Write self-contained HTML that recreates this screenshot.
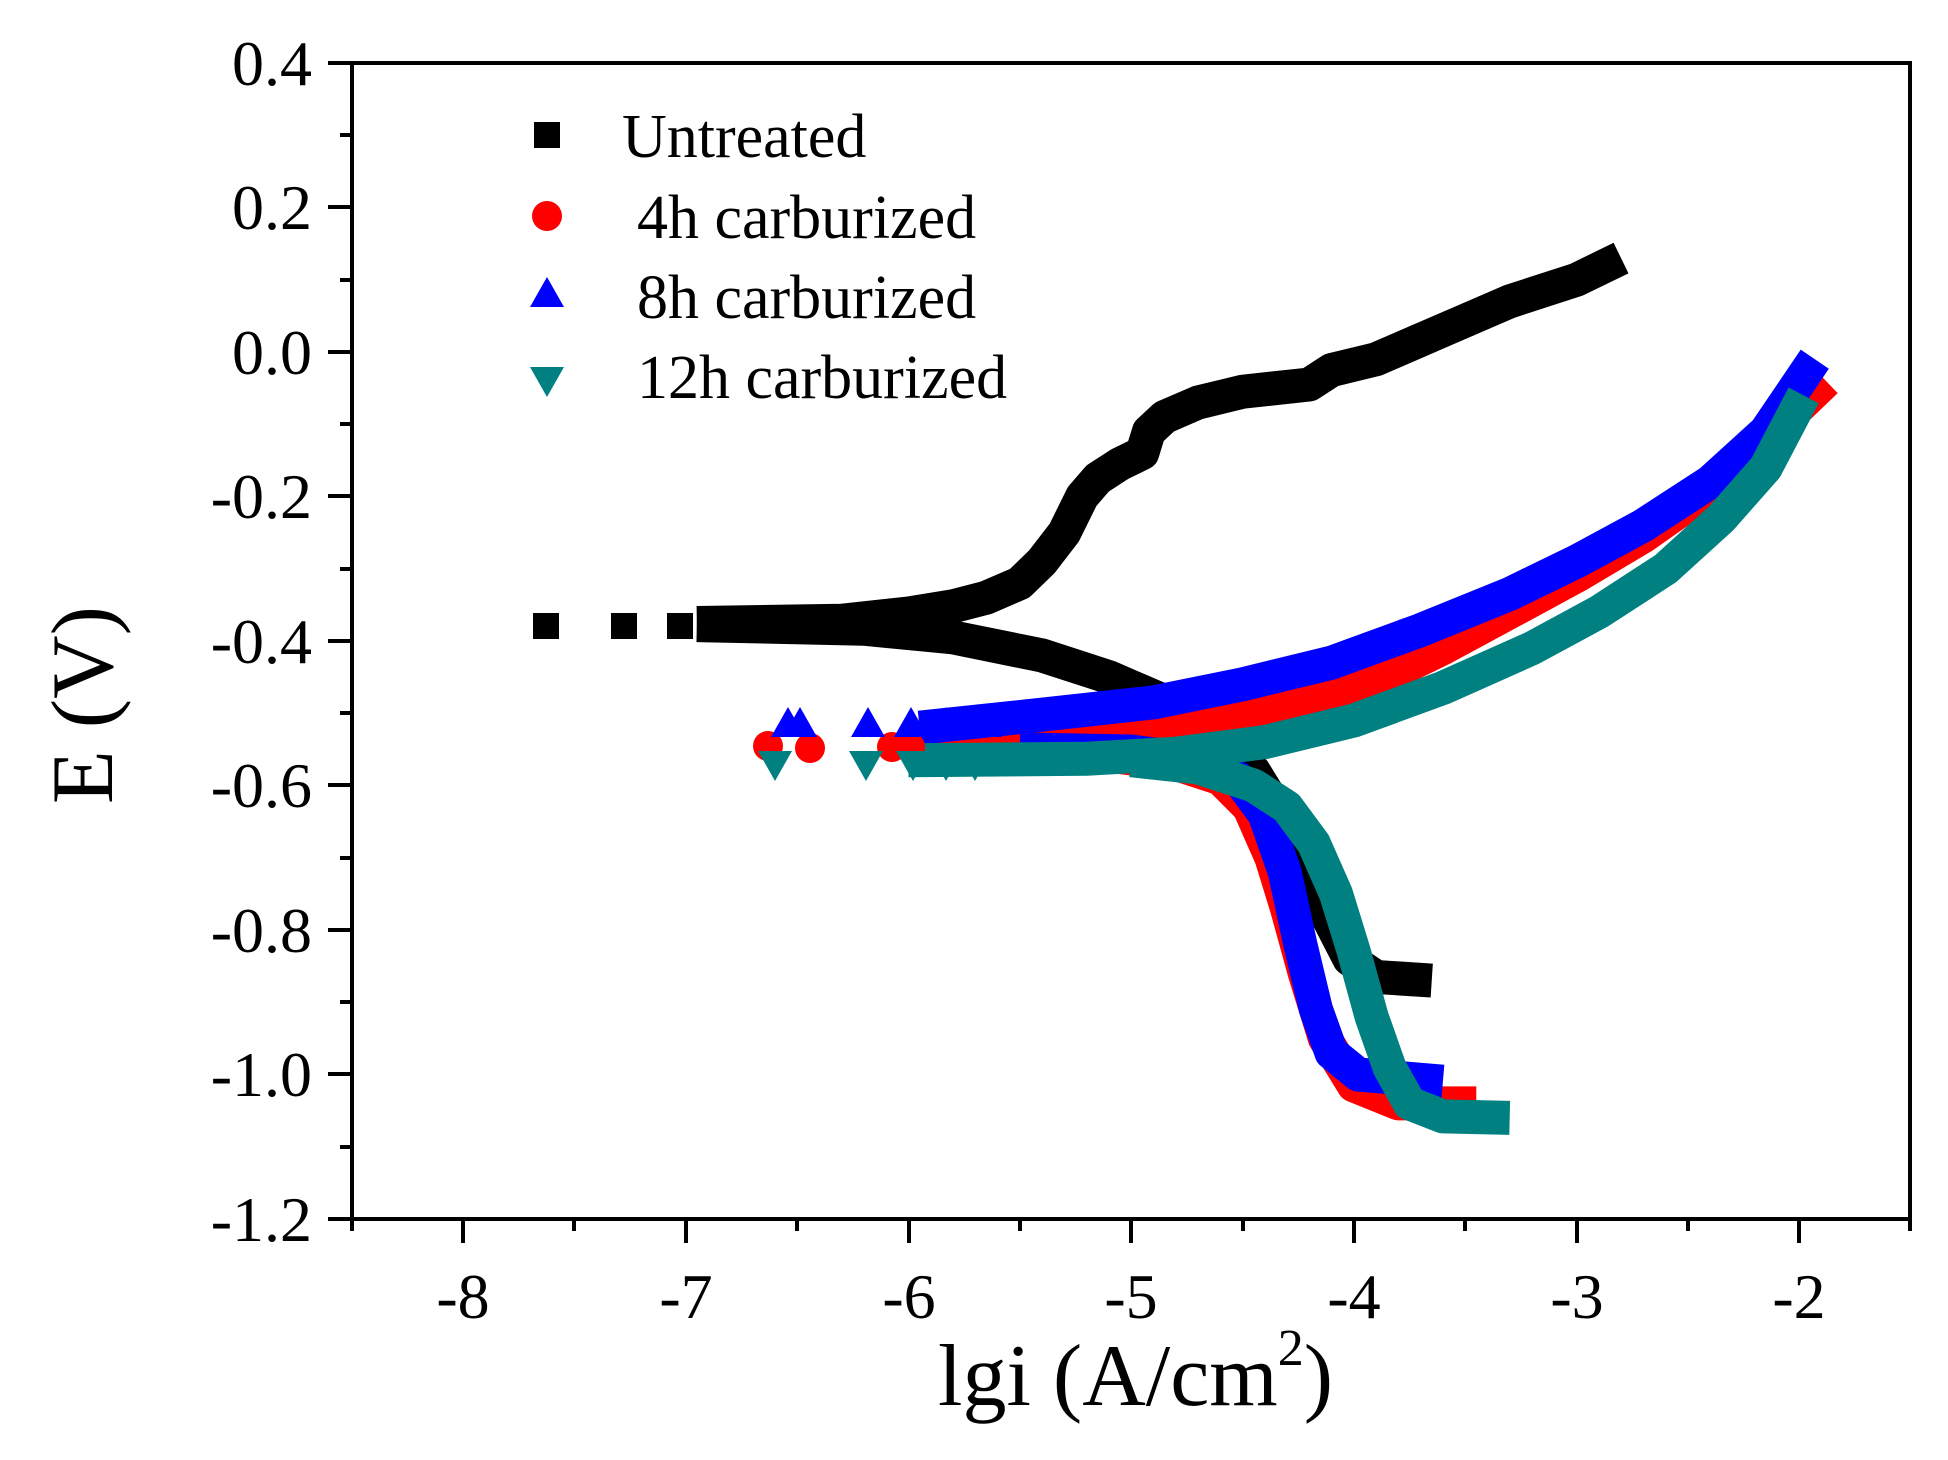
<!DOCTYPE html>
<html><head><meta charset="utf-8"><style>
body{margin:0;background:#fff}
svg text{font-family:"Liberation Serif",serif;fill:#000}
</style></head><body>
<svg width="1948" height="1455" viewBox="0 0 1948 1455" xmlns="http://www.w3.org/2000/svg">
<defs>
<rect id="sq" x="-13" y="-13" width="26" height="26" fill="#000"/>
<circle id="ci" r="15" fill="#f00"/>
<polygon id="tu" points="0,-19 17,11 -17,11" fill="#00f"/>
<polygon id="td" points="0,19 17,-11 -17,-11" fill="#008080"/>
</defs>
<g fill="none" stroke-linejoin="round" stroke-linecap="butt">
<g transform="translate(2244.6,352) scale(222.7,-722.5)">
<polyline vector-effect="non-scaling-stroke" stroke="#000" stroke-width="34" points="-6.95,-0.375 -6.3,-0.372 -6,-0.362 -5.8,-0.352 -5.65,-0.34 -5.5,-0.32 -5.4,-0.29 -5.3,-0.25 -5.22,-0.2 -5.15,-0.175 -5.05,-0.155 -4.95,-0.14 -4.92,-0.11 -4.85,-0.09 -4.7,-0.07 -4.5,-0.055 -4.2,-0.045 -4.1,-0.025 -3.9,-0.01 -3.6,0.03 -3.3,0.07 -3,0.1 -2.8,0.13"/>
<polyline vector-effect="non-scaling-stroke" stroke="#000" stroke-width="34" points="-6.95,-0.378 -6.2,-0.383 -5.8,-0.395 -5.4,-0.42 -5.1,-0.45 -4.8,-0.49 -4.6,-0.53 -4.45,-0.58 -4.33,-0.64 -4.22,-0.71 -4.12,-0.78 -4.02,-0.84 -3.9,-0.865 -3.65,-0.87"/>
<polyline vector-effect="non-scaling-stroke" stroke="#f00" stroke-width="34" points="-5.95,-0.545 -5.4,-0.54 -4.9,-0.525 -4.5,-0.505 -4.2,-0.485 -3.9,-0.455 -3.6,-0.41 -3.3,-0.36 -3,-0.31 -2.7,-0.255 -2.4,-0.19 -2.15,-0.12 -1.88,-0.04"/>
<polyline vector-effect="non-scaling-stroke" stroke="#f00" stroke-width="34" points="-5.95,-0.548 -5.2,-0.555 -4.8,-0.57 -4.6,-0.59 -4.47,-0.63 -4.37,-0.7 -4.3,-0.77 -4.22,-0.86 -4.13,-0.95 -4.0,-1.015 -3.8,-1.04 -3.45,-1.04"/>
<polyline vector-effect="non-scaling-stroke" stroke="#00f" stroke-width="34" points="-5.95,-0.52 -5.4,-0.502 -4.9,-0.485 -4.5,-0.46 -4.1,-0.43 -3.7,-0.385 -3.3,-0.335 -3,-0.29 -2.7,-0.24 -2.4,-0.18 -2.15,-0.11 -1.93,-0.01"/>
<polyline vector-effect="non-scaling-stroke" stroke="#00f" stroke-width="34" points="-5.5,-0.55 -5,-0.553 -4.7,-0.565 -4.52,-0.59 -4.4,-0.64 -4.31,-0.72 -4.24,-0.82 -4.17,-0.91 -4.1,-0.97 -3.98,-1.0 -3.6,-1.01"/>
<polyline vector-effect="non-scaling-stroke" stroke="#008080" stroke-width="34" points="-6,-0.565 -5.2,-0.563 -4.8,-0.556 -4.4,-0.54 -4,-0.51 -3.6,-0.465 -3.2,-0.41 -2.9,-0.36 -2.6,-0.3 -2.35,-0.23 -2.15,-0.16 -1.98,-0.06"/>
<polyline vector-effect="non-scaling-stroke" stroke="#008080" stroke-width="34" points="-5,-0.565 -4.7,-0.575 -4.45,-0.6 -4.3,-0.63 -4.18,-0.68 -4.08,-0.75 -4.0,-0.83 -3.92,-0.92 -3.84,-0.99 -3.75,-1.04 -3.6,-1.058 -3.3,-1.06"/>
</g>
</g>
<use href="#sq" x="546" y="626"/><use href="#sq" x="624" y="626"/><use href="#sq" x="680" y="626"/><use href="#sq" x="716" y="626"/><use href="#sq" x="752" y="626"/>
<use href="#ci" x="768" y="746"/><use href="#ci" x="810" y="748"/><use href="#ci" x="892" y="747"/><use href="#ci" x="910" y="747"/>
<use href="#tu" x="788" y="726"/><use href="#tu" x="800" y="726"/><use href="#tu" x="868" y="726"/><use href="#tu" x="911" y="726"/><use href="#tu" x="946" y="726"/><use href="#tu" x="985" y="726"/>
<use href="#td" x="775" y="762"/><use href="#td" x="866" y="762"/><use href="#td" x="913" y="762"/><use href="#td" x="946" y="762"/><use href="#td" x="975" y="762"/>
<rect x="352" y="63" width="1558" height="1156" fill="none" stroke="#000" stroke-width="4"/>
<g stroke="#000" stroke-width="4">
<line x1="328" y1="63" x2="352" y2="63"/><line x1="328" y1="207" x2="352" y2="207"/><line x1="328" y1="352" x2="352" y2="352"/><line x1="328" y1="496" x2="352" y2="496"/><line x1="328" y1="641" x2="352" y2="641"/><line x1="328" y1="785" x2="352" y2="785"/><line x1="328" y1="930" x2="352" y2="930"/><line x1="328" y1="1074" x2="352" y2="1074"/><line x1="328" y1="1219" x2="352" y2="1219"/>
<line x1="340" y1="135" x2="352" y2="135"/><line x1="340" y1="280" x2="352" y2="280"/><line x1="340" y1="424" x2="352" y2="424"/><line x1="340" y1="569" x2="352" y2="569"/><line x1="340" y1="713" x2="352" y2="713"/><line x1="340" y1="858" x2="352" y2="858"/><line x1="340" y1="1002" x2="352" y2="1002"/><line x1="340" y1="1147" x2="352" y2="1147"/>
<line x1="463" y1="1219" x2="463" y2="1243"/><line x1="686" y1="1219" x2="686" y2="1243"/><line x1="909" y1="1219" x2="909" y2="1243"/><line x1="1131" y1="1219" x2="1131" y2="1243"/><line x1="1354" y1="1219" x2="1354" y2="1243"/><line x1="1577" y1="1219" x2="1577" y2="1243"/><line x1="1799" y1="1219" x2="1799" y2="1243"/>
<line x1="352" y1="1219" x2="352" y2="1231"/><line x1="574" y1="1219" x2="574" y2="1231"/><line x1="797" y1="1219" x2="797" y2="1231"/><line x1="1020" y1="1219" x2="1020" y2="1231"/><line x1="1243" y1="1219" x2="1243" y2="1231"/><line x1="1465" y1="1219" x2="1465" y2="1231"/><line x1="1688" y1="1219" x2="1688" y2="1231"/><line x1="1910" y1="1219" x2="1910" y2="1231"/>
</g>
<g font-size="64" text-anchor="end">
<text x="312" y="85">0.4</text><text x="312" y="229">0.2</text><text x="312" y="374">0.0</text><text x="312" y="518">-0.2</text><text x="312" y="663">-0.4</text><text x="312" y="807">-0.6</text><text x="312" y="952">-0.8</text><text x="312" y="1096">-1.0</text><text x="312" y="1241">-1.2</text>
</g>
<g font-size="64" text-anchor="middle">
<text x="463" y="1318">-8</text><text x="686" y="1318">-7</text><text x="909" y="1318">-6</text><text x="1131" y="1318">-5</text><text x="1354" y="1318">-4</text><text x="1577" y="1318">-3</text><text x="1799" y="1318">-2</text>
</g>
<text x="938" y="1405" font-size="88">lgi (A/cm<tspan font-size="52" dy="-40">2</tspan><tspan dy="40">)</tspan></text>
<text transform="translate(112,705) rotate(-90)" font-size="88" text-anchor="middle">E (V)</text>
<use href="#sq" x="547" y="135"/><use href="#ci" x="547" y="216"/><use href="#tu" x="547" y="296"/><use href="#td" x="547" y="378"/>
<g font-size="62">
<text x="622" y="157">Untreated</text><text x="637" y="238">4h carburized</text><text x="637" y="318">8h carburized</text><text x="637" y="398">12h carburized</text>
</g>
</svg>
</body></html>
